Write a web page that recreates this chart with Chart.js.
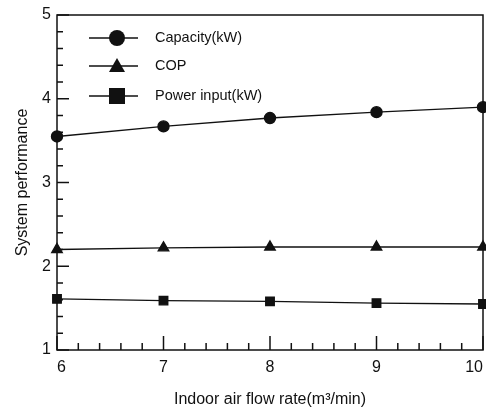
<!DOCTYPE html>
<html>
<head>
<meta charset="utf-8">
<script src="https://cdn.jsdelivr.net/npm/chart.js@4"></script>
<style>
  html, body { margin: 0; padding: 0; background: #fff; }
  #wrap { width: 486px; height: 412px; }
</style>
</head>
<body>
<div id="wrap"><canvas id="perfChart" width="486" height="412"></canvas></div>
<script>
// airflow (m3/min)
const flowRates = [6, 7, 8, 9, 10];
const capacity = [3.55, 3.67, 3.77, 3.84, 3.90];
const cop = [2.20, 2.22, 2.23, 2.23, 2.23];
const powerInput = [1.61, 1.59, 1.58, 1.56, 1.55];
const yTicks = [1, 2, 3, 4, 5];
const xTicks = [6, 7, 8, 9, 10];

const FONT = 'Liberation Sans, Arial, sans-serif';
const INK = '#111';

// inward ticks, frame and legend drawn on top of the chart area
const decoPlugin = {
  id: 'deco',
  afterDraw(chart) {
    const c = chart.ctx;
    const xs = chart.scales.x, ys = chart.scales.y;
    const a = chart.chartArea;
    c.save();
    c.strokeStyle = INK;
    c.lineWidth = 1.5;
    c.strokeRect(a.left, a.top, a.right - a.left, a.bottom - a.top);

    // y ticks (major every 1, minor every 0.2)
    for (let i = 0; i <= 20; i++) {
      const v = 1 + i * 0.2;
      const py = ys.getPixelForValue(v);
      const len = i % 5 === 0 ? 12 : 6;
      c.beginPath();
      c.moveTo(a.left, py);
      c.lineTo(a.left + len, py);
      c.stroke();
    }
    // x ticks
    for (let i = 0; i <= 20; i++) {
      const v = 6 + i * 0.2;
      const px = xs.getPixelForValue(v);
      const len = i % 5 === 0 ? 14 : 7;
      c.beginPath();
      c.moveTo(px, a.bottom);
      c.lineTo(px, a.bottom - len);
      c.stroke();
    }

    // legend
    const rows = [38, 66, 96];
    chart.data.datasets.forEach((ds, i) => {
      const y = rows[i];
      c.beginPath();
      c.lineWidth = 1.3;
      c.moveTo(89, y);
      c.lineTo(138, y);
      c.stroke();
      c.fillStyle = INK;
      const cx = 117;
      if (ds.pointStyle === 'circle') {
        c.beginPath();
        c.arc(cx, y, 8, 0, Math.PI * 2);
        c.fill();
      } else if (ds.pointStyle === 'triangle') {
        c.beginPath();
        c.moveTo(cx, y - 8);
        c.lineTo(cx + 8, y + 6);
        c.lineTo(cx - 8, y + 6);
        c.closePath();
        c.fill();
      } else {
        c.fillRect(cx - 8, y - 8, 16, 16);
      }
      c.font = '14.5px ' + FONT;
      c.textBaseline = 'middle';
      c.textAlign = 'left';
      c.fillText(ds.label, 155, y);
    });
    c.restore();
  }
};

const lineStyle = {
  borderColor: INK,
  backgroundColor: INK,
  borderWidth: 1.4,
  pointBorderColor: INK,
  pointBackgroundColor: INK,
  tension: 0,
  fill: false,
  clip: false
};

new Chart(document.getElementById('perfChart'), {
  type: 'line',
  data: {
    datasets: [
      Object.assign({ label: 'Capacity(kW)', data: flowRates.map((x, i) => ({ x, y: capacity[i] })), pointStyle: 'circle', pointRadius: 5.5 }, lineStyle),
      Object.assign({ label: 'COP', data: flowRates.map((x, i) => ({ x, y: cop[i] })), pointStyle: 'triangle', pointRadius: 6 }, lineStyle),
      Object.assign({ label: 'Power input(kW)', data: flowRates.map((x, i) => ({ x, y: powerInput[i] })), pointStyle: 'rect', pointRadius: 6 }, lineStyle)
    ]
  },
  options: {
    responsive: false,
    animation: false,
    layout: { autoPadding: false, padding: { left: 11, right: 3, top: 15, bottom: 0 } },
    plugins: { legend: { display: false }, tooltip: { enabled: false } },
    scales: {
      x: {
        type: 'linear',
        min: 6, max: 10,
        afterBuildTicks(s) { s.ticks = xTicks.map(v => ({ value: v })); },
        afterFit(s) { s.height = 62; s.paddingLeft = 0; s.paddingRight = 0; },
        grid: { display: false, drawTicks: false },
        border: { display: false },
        ticks: { color: INK, font: { family: FONT, size: 16 }, padding: 8, maxRotation: 0, align: 'inner' },
        title: { display: true, text: 'Indoor air flow rate(m\u00B3/min)', color: INK, font: { family: FONT, size: 16 }, padding: { top: 6, bottom: 3 } }
      },
      y: {
        min: 1, max: 5,
        afterBuildTicks(s) { s.ticks = yTicks.map(v => ({ value: v })); },
        afterFit(s) { s.width = 46; s.paddingTop = 0; s.paddingBottom = 0; },
        grid: { display: false, drawTicks: false },
        border: { display: false },
        ticks: { color: INK, font: { family: FONT, size: 16 }, padding: 6 },
        title: { display: true, text: 'System performance', color: INK, font: { family: FONT, size: 16 }, padding: 2 }
      }
    }
  },
  plugins: [decoPlugin]
});
</script>
</body>
</html>
